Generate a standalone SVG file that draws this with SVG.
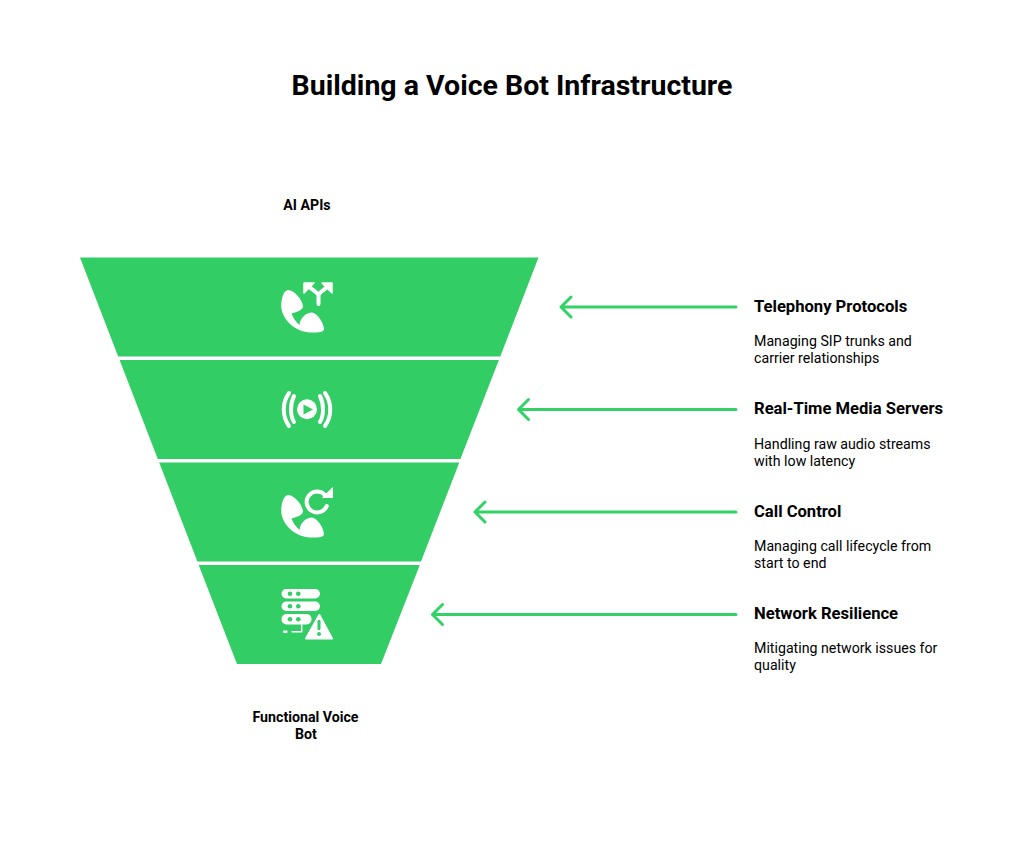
<svg xmlns="http://www.w3.org/2000/svg" width="1024" height="853" viewBox="0 0 1024 853">
<style>
text{font-family:Roboto,"Liberation Sans",sans-serif;fill:#000}
.t{font-size:28.5px;font-weight:700}
.l{font-size:14.2px;font-weight:700}
.h{font-size:16.6px;font-weight:700}
.d{font-size:14.2px;font-weight:400}
.seg{fill:#32cd64}
.ic{fill:#fff}
.st{fill:none;stroke:#fff;stroke-linecap:round;stroke-linejoin:round}
.hd{fill:#fff;stroke:#fff;stroke-linecap:round;stroke-linejoin:round}
.a{fill:none;stroke:#32d267;stroke-width:3;stroke-linecap:round;stroke-linejoin:round}
</style>
<defs>
<path id="phone" class="ic" d="M288 290C294 290 302 299 303 306C303 310 297 312 291.500 313.500C293 318 296 322 299.500 325C300 318 306 312.500 312 312.500C318 313.500 324 324 324 329C324 332 319 332.500 312 332.500C297 332.500 284 322 281.500 309C280.500 301 283 290.500 288 290Z"/>
</defs>
<rect width="1024" height="853" fill="#fff"/>
<text class="t" x="512" y="95" text-anchor="middle">Building a Voice Bot Infrastructure</text>
<text class="l" x="307" y="209.500" text-anchor="middle">AI APIs</text>
<text class="l" x="305.500" y="721.500" text-anchor="middle">Functional Voice</text>
<text class="l" x="306" y="738.500" text-anchor="middle">Bot</text>
<g id="seg1"><path class="seg" d="M80 257.500H538.500L500.300 356.500H118.200Z"/>
<use href="#phone"/>
<path class="st" stroke-width="4" d="M318.500 304V296C318.500 292 312 290 308 286M318.500 296C318.500 292 325 290 328 286"/>
<path class="hd" stroke-width="1.500" d="M304 283H314L304 293ZM332 283V293L322 283Z"/></g>
<g id="seg2"><path class="seg" d="M119.600 360H498.900L460.400 459H157.800Z"/>
<circle class="ic" cx="307" cy="409.300" r="10"/><path class="seg" d="M303.500 404.500L313 409.500L303.500 414.500Z"/>
<path class="st" stroke-width="4" d="M294 396C290 404 290 415 294 422M320 396C324 404 324 415 320 422"/>
<path class="st" stroke-width="4" d="M289 393C282 403 282 416 289 426M325 393C332 403 332 416 325 426"/></g>
<g id="seg3"><path class="seg" d="M159.200 462.500H459.300L421 561.500H197.400Z"/>
<use href="#phone" transform="translate(0 205)"/>
<path class="st" stroke-width="4" d="M325 495A10.500 10.500 0 1 0 326.800 506"/>
<path class="hd" stroke-width="1" d="M332.500 488V497.500H323Z"/></g>
<g id="seg4"><path class="seg" d="M198.700 565H419.800L381 664H237Z"/>
<g class="ic"><rect x="281.500" y="589" width="38.500" height="9.500" rx="4.700"/><rect x="281.500" y="601.500" width="38.500" height="9.500" rx="4.700"/><rect x="281.500" y="614" width="30" height="10.500" rx="5"/>
<path class="hd" stroke-width="2" d="M319.300 615L332 638.500H306Z"/>
<rect x="283" y="630.500" width="4.500" height="2.500" rx="1"/></g>
<g class="seg"><circle cx="290" cy="593.800" r="2.300"/><circle cx="298.300" cy="593.800" r="2.300"/><circle cx="290" cy="606.300" r="2.300"/><circle cx="298.300" cy="606.300" r="2.300"/><circle cx="290" cy="619.300" r="2.300"/><circle cx="298.300" cy="619.300" r="2.300"/>
<rect x="317.500" y="620" width="3" height="10" rx="1.200"/><circle cx="319" cy="634" r="2"/></g>
<path class="st" stroke-width="1.500" d="M292 631.800H301.700V625"/></g>
<g id="connectors">
<path class="a" d="M736 307H561M571 297L561 307L571 317"/>
<path class="a" d="M736 409.500H518.500M528.500 399.500L518.500 409.500L528.500 419.500"/>
<path class="a" d="M736 512H475M485 502L475 512L485 522"/>
<path class="a" d="M736 614.500H432.500M442.500 604.500L432.500 614.500L442.500 624.500"/>
</g>
<g id="label1"><text class="h" x="754" y="312">Telephony Protocols</text><text class="d" x="754" y="346">Managing SIP trunks and</text><text class="d" x="754" y="363">carrier relationships</text></g>
<g id="label2"><text class="h" x="754" y="414">Real-Time Media Servers</text><text class="d" x="754" y="448.500">Handling raw audio streams</text><text class="d" x="754" y="465.500">with low latency</text></g>
<g id="label3"><text class="h" x="754" y="517">Call Control</text><text class="d" x="754" y="551">Managing call lifecycle from</text><text class="d" x="754" y="568">start to end</text></g>
<g id="label4"><text class="h" x="754" y="619">Network Resilience</text><text class="d" x="754" y="653">Mitigating network issues for</text><text class="d" x="754" y="670">quality</text></g>
</svg>
